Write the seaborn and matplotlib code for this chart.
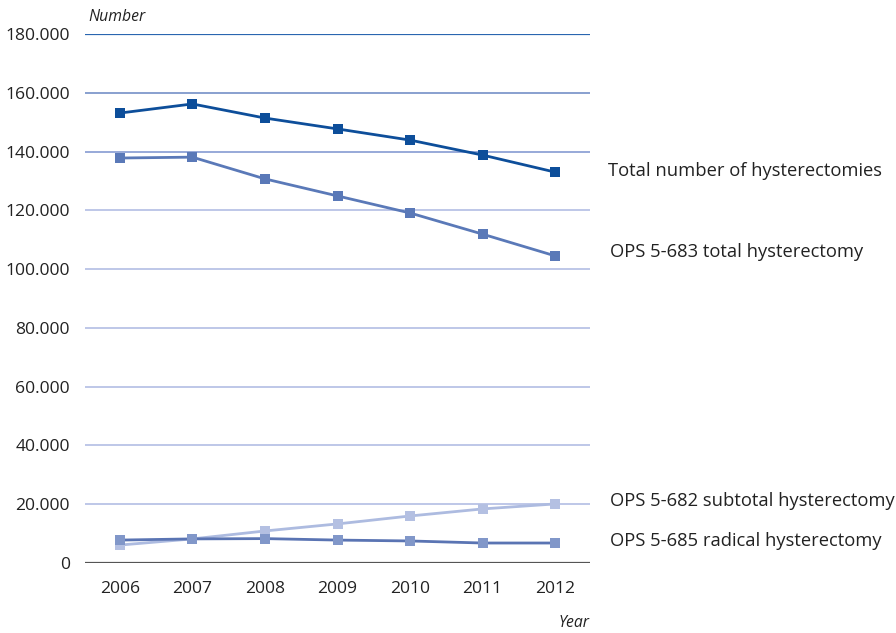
import matplotlib
matplotlib.use("Agg")
import matplotlib.pyplot as plt
import matplotlib.ticker as mticker
import seaborn as sns
import pandas as pd

years = [2006, 2007, 2008, 2009, 2010, 2011, 2012]
total_all = [153100, 156200, 151400, 147700, 143900, 138800, 133000]
ops_683_total = [137800, 138100, 130700, 124900, 119100, 111900, 104500]
ops_682_subtotal = [6100, 8200, 10900, 13300, 16000, 18400, 20100]
ops_685_radical = [7800, 8200, 8300, 7800, 7500, 6800, 6800]

series_names = [
    "Total number of hysterectomies",
    "OPS 5-683 total hysterectomy",
    "OPS 5-682 subtotal hysterectomy",
    "OPS 5-685 radical hysterectomy",
]
series_values = [total_all, ops_683_total, ops_682_subtotal, ops_685_radical]
y_ticks = [0, 20000, 40000, 60000, 80000, 100000, 120000, 140000, 160000, 180000]

df = pd.DataFrame(
    [(y, name, v) for name, vals in zip(series_names, series_values) for y, v in zip(years, vals)],
    columns=["Year", "Series", "Number"],
)

sns.set_theme(style="white")
plt.rcParams["font.family"] = ["Open Sans", "DejaVu Sans"]

line_colors = {
    series_names[0]: "#0d4e9a",
    series_names[1]: "#5a79b8",
    series_names[2]: "#adbbe0",
    series_names[3]: "#5a74b3",
}
marker_colors = ["#0d4e9a", "#5a79b8", "#b4c0e2", "#8197c9"]

fig = plt.figure(figsize=(8.96, 6.33), dpi=100)
ax = fig.add_axes([85 / 896, 1 - 563 / 633, 505 / 896, 529 / 633])

# horizontal grid, shading from dark blue at the top to pale lavender lower down
grid_colors = {180000: "#2a66b0", 160000: "#7f98cc", 140000: "#8fa3d6"}
grid_widths = {180000: 1.6}
for t in y_ticks[1:]:
    ax.axhline(t, color=grid_colors.get(t, "#b9c3e6"), lw=grid_widths.get(t, 1.3), zorder=0)
ax.axhline(0, color="#555555", lw=1.6, zorder=1)

sns.lineplot(
    data=df, x="Year", y="Number", hue="Series", palette=line_colors,
    lw=2.0, legend=False, ax=ax, zorder=3,
)
for name, vals, mc in zip(series_names, series_values, marker_colors):
    ax.scatter(years, vals, marker="s", s=62, color=mc, zorder=4, linewidths=0)

ax.set_xlim(2005.52, 2012.48)
ax.set_ylim(0, 180000)
ax.set_yticks(y_ticks)
ax.yaxis.set_major_formatter(
    mticker.FuncFormatter(lambda v, p: f"{int(v):,}".replace(",", "."))
)
ax.set_xticks(years)
ax.tick_params(axis="both", length=0, labelsize=12.6, colors="#222222")
ax.tick_params(axis="x", pad=13)
ax.tick_params(axis="y", pad=11)
ax.set_xlabel("")
ax.set_ylabel("")
for s in ax.spines.values():
    s.set_visible(False)

fig.text(88 / 896, 1 - 17 / 633, "Number", fontsize=11.3, style="italic",
         color="#222222", va="center", ha="left")
fig.text(590 / 896, 1 - 623 / 633, "Year", fontsize=11.3, style="italic",
         color="#222222", va="center", ha="right")

label_y_px = [171, 252, 501, 541]
label_x_px = [608, 610, 610, 610]
for name, ypx, xpx in zip(series_names, label_y_px, label_x_px):
    fig.text(xpx / 896, 1 - ypx / 633, name, fontsize=13.2, color="#222222",
             va="center", ha="left")

fig.savefig("out.png", dpi=100)
